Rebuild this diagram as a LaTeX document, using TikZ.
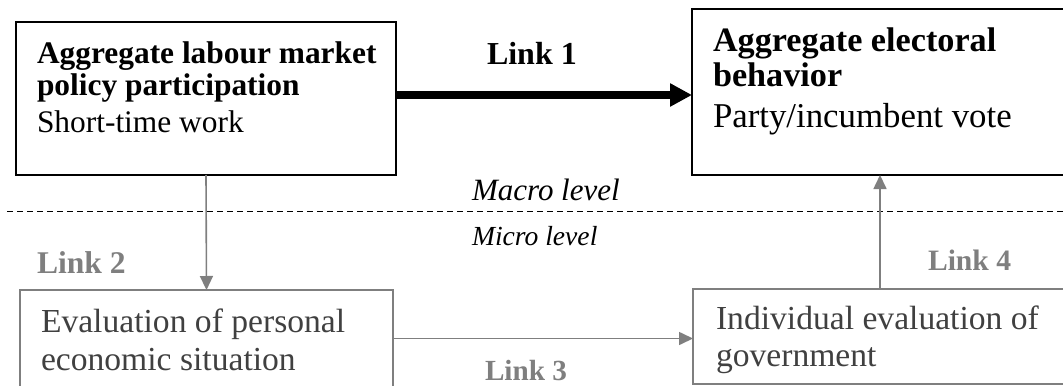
\documentclass[tikz,border=0pt]{standalone}
\usepackage{fontspec}
\setmainfont{Liberation Serif}
\usetikzlibrary{arrows.meta}
\definecolor{lgray}{HTML}{7F7F7F}
\definecolor{tgray}{HTML}{404040}
\begin{document}
\begin{tikzpicture}[x=0.5pt,y=-0.5pt,
  boxk/.style={draw=black,line width=1pt,inner sep=0,outer sep=0},
  boxg/.style={draw=lgray,line width=1pt,inner sep=0,outer sep=0},
  txt/.style={inner sep=0,outer sep=0,anchor=base west},
  garrow/.style={draw=lgray,line width=0.8pt,-{Triangle[length=7pt,width=6.5pt]},fill=lgray},
  glabel/.style={txt,text=lgray,font=\bfseries}]
\useasboundingbox (0,0) rectangle (1063,385);
% boxes
\node[boxk,minimum width=190pt,minimum height=76.5pt] (boxA) at (206,98.5) {};
\node[boxk,minimum width=188pt,minimum height=83pt] (boxB) at (880,92) {};
\node[boxg,minimum width=186.5pt,minimum height=48.5pt] (boxC) at (206.5,338.5) {};
\node[boxg,minimum width=187pt,minimum height=47.5pt] (boxD) at (880,336.5) {};
% box texts
\node[txt,font=\fontsize{15.7}{18}\selectfont\bfseries] (a1) at (37,64) {Aggregate labour market};
\node[txt,font=\fontsize{15.7}{18}\selectfont\bfseries] (a2) at (37,96) {policy participation};
\node[txt,font=\fontsize{15.7}{18}\selectfont] (a3) at (37,133) {Short-time work};
\node[txt,font=\fontsize{17.1}{20}\selectfont\bfseries] (b1) at (713,52) {Aggregate electoral};
\node[txt,font=\fontsize{17.1}{20}\selectfont\bfseries] (b2) at (713,87) {behavior};
\node[txt,font=\fontsize{17.4}{20}\selectfont] (b3) at (713,127) {Party/incumbent vote};
\node[txt,text=tgray,font=\fontsize{16.8}{20}\selectfont] (c1) at (41,332) {Evaluation of personal};
\node[txt,text=tgray,font=\fontsize{16.8}{20}\selectfont] (c2) at (41,370) {economic situation};
\node[txt,text=tgray,font=\fontsize{16.8}{20}\selectfont] (d1) at (716,329) {Individual evaluation of};
\node[txt,text=tgray,font=\fontsize{16.8}{20}\selectfont] (d2) at (716,366) {government};
% level labels and divider
\node[txt,font=\fontsize{15.5}{18}\selectfont\itshape] (macro) at (472,200) {Macro level};
\node[txt,font=\fontsize{13.8}{16}\selectfont\itshape] (micro) at (472,245) {Micro level};
\coordinate (dl) at (7,211);
\coordinate (dr) at (1063,211);
\draw[black,line width=0.5pt,dash pattern=on 3pt off 2pt] (dl) -- (dr);
% link labels
\node[txt,font=\fontsize{16}{18}\selectfont\bfseries] (l1) at (487,65) {Link 1};
\node[glabel,font=\fontsize{15.8}{18}\selectfont\bfseries] (l2) at (37,273) {Link 2};
\node[glabel,font=\fontsize{14.6}{18}\selectfont\bfseries] (l3) at (485,380) {Link 3};
\node[glabel,font=\fontsize{14.8}{18}\selectfont\bfseries] (l4) at (928,270) {Link 4};
% connectors
\draw[black,line width=3.5pt,-{Triangle[length=11pt,width=11pt]}] ([yshift=1.75pt]boxA.east) -- ([yshift=1.75pt]boxA.east -| boxB.west);
\draw[garrow] (boxA.south) -- (boxC.north);
\draw[garrow] (boxC.east) -- (boxC.east -| boxD.west);
\draw[garrow] (boxD.north) -- (boxB.south);
\end{tikzpicture}
\end{document}
